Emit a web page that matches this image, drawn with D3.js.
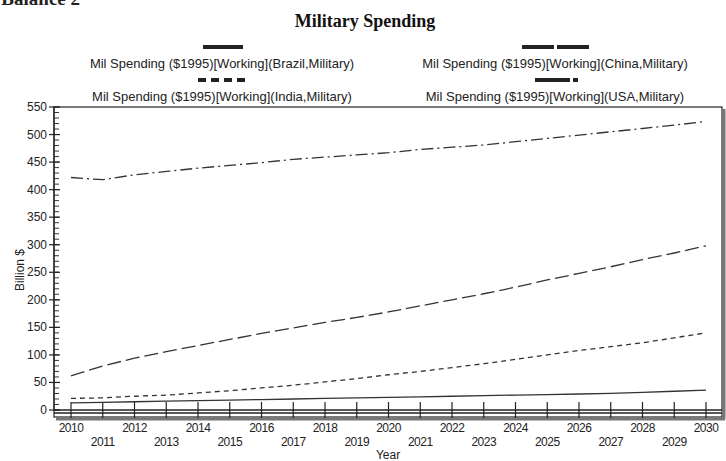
<!DOCTYPE html>
<html>
<head>
<meta charset="utf-8">
<script src="https://cdn.jsdelivr.net/npm/d3@7"></script>
<style>
  body { margin: 0; background: #fff; }
  svg { display: block; }
  text { font-family: "Liberation Sans", Arial, sans-serif; fill: #222; }
</style>
</head>
<body>
<svg id="chart" width="726" height="461"></svg>
<script>
// chart data
const years = d3.range(2010, 2031);
const brazil = [13, 14, 15, 16, 17, 18, 19, 20, 21, 22, 23, 24, 25, 26, 27, 28, 29, 30, 32, 34, 36];
const china = [62, 80, 94, 106, 117, 128, 139, 149, 159, 168, 178, 189, 200, 211, 223, 236, 248, 260, 273, 285, 298];
const india = [21, 22, 25, 27, 31, 35, 40, 45, 51, 57, 64, 70, 77, 84, 92, 100, 108, 115, 122, 131, 140];
const usa = [422, 418, 427, 433, 439, 444, 449, 455, 459, 463, 467, 473, 477, 481, 487, 493, 499, 505, 511, 517, 524];
const yTicks = d3.range(0, 551, 50);
const seriesNames = ["Brazil", "China", "India", "USA"];

// dash patterns for each series
const dashes = {
    Brazil: null,
    China: "14,5",
    India: "5,4",
    USA: "12,4,2,4"
};
const legendDashes = {
    Brazil: null,
    China: "32,3",
    India: "8,5",
    USA: "35,3,5,60"
};

const svg = d3.select("#chart");

const x = d3.scaleLinear().domain([2010, 2030]).range([71, 706]);
const y = d3.scaleLinear().domain([0, 550]).range([410, 107]);

// cut-off heading at the top-left (cut in the reference too)
svg.append("text")
    .attr("x", 80).attr("y", 5)
    .attr("text-anchor", "end")
    .style("font-family", "'Liberation Serif', 'Times New Roman', serif")
    .style("font-weight", "bold")
    .style("font-size", "19px")
    .text("Balance 2");

// title
svg.append("text")
    .attr("x", 365).attr("y", 27)
    .attr("text-anchor", "middle")
    .style("font-family", "'Liberation Serif', 'Times New Roman', serif")
    .style("font-weight", "bold")
    .style("font-size", "18px")
    .style("fill", "#111")
    .text("Military Spending");

// legend
const legendPos = [
    { name: "Brazil", sx: 203, sw: 40, cx: 222, sy: 47 },
    { name: "China", sx: 522, sw: 68, cx: 555, sy: 47 },
    { name: "India", sx: 198, sw: 49, cx: 222, sy: 80 },
    { name: "USA", sx: 535, sw: 43, cx: 555, sy: 80 }
];
legendPos.forEach(d => {
    svg.append("line")
        .attr("x1", d.sx).attr("x2", d.sx + d.sw)
        .attr("y1", d.sy).attr("y2", d.sy)
        .attr("stroke", "#222")
        .attr("stroke-width", 4)
        .attr("stroke-dasharray", legendDashes[d.name]);
    svg.append("text")
        .attr("x", d.cx).attr("y", d.sy + 21)
        .attr("text-anchor", "middle")
        .style("font-size", "13px")
        .text(`Mil Spending ($1995)[Working](${d.name},Military)`);
});

// frame with shadow on right and bottom
svg.append("rect")
    .attr("x", 54).attr("y", 107)
    .attr("width", 668).attr("height", 310)
    .attr("fill", "none")
    .attr("stroke", "#222")
    .attr("stroke-width", 1.2);
svg.append("line")
    .attr("x1", 724).attr("x2", 724).attr("y1", 109).attr("y2", 419)
    .attr("stroke", "#777").attr("stroke-width", 3);
svg.append("line")
    .attr("x1", 56).attr("x2", 725).attr("y1", 419).attr("y2", 419)
    .attr("stroke", "#777").attr("stroke-width", 3);

// y axis
const yAxis = svg.append("g").attr("transform", "translate(54,0)");
yAxis.append("line")
    .attr("x1", 0).attr("x2", 0).attr("y1", y(550)).attr("y2", y(0))
    .attr("stroke", "#222").attr("stroke-width", 1.2);
yAxis.selectAll(".minor")
    .data(d3.range(0, 551, 10))
    .enter().append("line")
    .attr("x1", 0).attr("x2", 5)
    .attr("y1", d => y(d)).attr("y2", d => y(d))
    .attr("stroke", "#333").attr("stroke-width", 1);
yAxis.selectAll(".major")
    .data(yTicks)
    .enter().append("line")
    .attr("x1", -5).attr("x2", 6)
    .attr("y1", d => y(d)).attr("y2", d => y(d))
    .attr("stroke", "#222").attr("stroke-width", 1.2);
yAxis.selectAll(".ylab")
    .data(yTicks)
    .enter().append("text")
    .attr("x", -7).attr("y", d => y(d) + 4)
    .attr("text-anchor", "end")
    .style("font-size", "12px")
    .text(d => d);

svg.append("text")
    .attr("transform", "translate(24,270) rotate(-90)")
    .attr("text-anchor", "middle")
    .style("font-size", "12px")
    .text("Billion $");

// x axis (double line)
svg.append("line")
    .attr("x1", 54).attr("x2", 722).attr("y1", 410).attr("y2", 410)
    .attr("stroke", "#222").attr("stroke-width", 1.5);
svg.append("line")
    .attr("x1", 54).attr("x2", 722).attr("y1", 413).attr("y2", 413)
    .attr("stroke", "#222").attr("stroke-width", 1.5);
svg.selectAll(".xtick")
    .data(years)
    .enter().append("line")
    .attr("x1", d => x(d)).attr("x2", d => x(d))
    .attr("y1", 402).attr("y2", 418)
    .attr("stroke", "#222").attr("stroke-width", 1.2);
svg.selectAll(".xlab")
    .data(years)
    .enter().append("text")
    .attr("x", d => x(d))
    .attr("y", d => d % 2 === 0 ? 432 : 446)
    .attr("text-anchor", "middle")
    .style("font-size", "12px")
    .style("letter-spacing", "-0.5px")
    .text(d => d);

svg.append("text")
    .attr("x", 388).attr("y", 459)
    .attr("text-anchor", "middle")
    .style("font-size", "12px")
    .text("Year");

// series lines
const line = d3.line()
    .x((d, i) => x(years[i]))
    .y(d => y(d));

const seriesData = { Brazil: brazil, China: china, India: india, USA: usa };
seriesNames.forEach(name => {
    svg.append("path")
        .datum(seriesData[name])
        .attr("d", line)
        .attr("fill", "none")
        .attr("stroke", "#333")
        .attr("stroke-width", 1.3)
        .attr("stroke-dasharray", dashes[name]);
});
</script>
</body>
</html>
